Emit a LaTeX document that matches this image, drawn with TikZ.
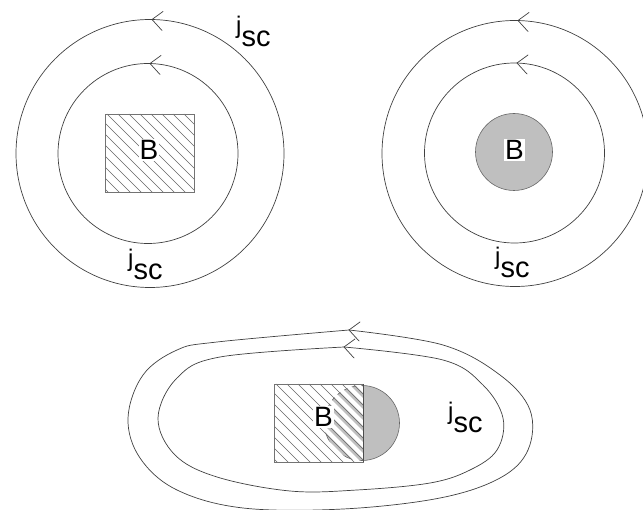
\documentclass[tikz,border=0pt]{standalone}
\usepackage{fontspec}
\setmainfont{Liberation Sans}
\newcommand{\jscsym}{\raisebox{13pt}{\fontsize{24}{24}\selectfont j}{\fontsize{29}{29}\selectfont sc}}
\begin{document}
\begin{tikzpicture}[x=1pt,y=-1pt,
  wire/.style={draw=black!75, line width=0.7pt},
  hatchline/.style={draw=black!60, line width=0.6pt},
  edgeline/.style={draw=black!55, line width=0.7pt},
  disk/.style={fill=black!25, draw=black!60, line width=0.6pt},
  blabel/.style={fill=white, inner sep=1pt, font=\fontsize{28}{28}\selectfont},
  jlabel/.style={anchor=base west, inner sep=0pt},
  chev/.pic={\draw[wire, line cap=round] (11,-8) -- (0,0) -- (10,11);}
]
\useasboundingbox (0,0) rectangle (643,510);

% ---------- top left ----------
\draw[wire] (150,153.5) circle[radius=134];
\draw[wire] (148,153.5) circle[radius=90];
\pic at (152,19.5) {chev};
\pic at (150,63.5) {chev};
\fill[white] (105,114) rectangle (194,192);
\begin{scope}
  \clip (105,114) rectangle (194,192);
  \foreach \k in {-9,...,9} \draw[hatchline] ({107+\k*11},114) -- ++(90,90);
\end{scope}
\draw[edgeline] (105,114) rectangle (194,192);
\node[blabel] (b1) at (149,150) {B};
\node[jlabel] (j1) at (236,46.5) {\jscsym};
\node[jlabel] (j2) at (128,280) {\jscsym};

% ---------- top right ----------
\draw[wire] (515,153.5) circle[radius=133];
\draw[wire] (514.5,153) circle[radius=90];
\pic at (518,20.5) {chev};
\pic at (517,63) {chev};
\filldraw[disk] (514,152) circle[radius=38.5];
\node[blabel] (b2) at (514.5,150) {B};
\node[jlabel] (j3) at (495,278) {\jscsym};

% ---------- bottom ----------
\draw[wire] plot[smooth, tension=0.6] coordinates {(349,330) (443,345) (500,375) (530,410) (528,450) (500,478) (440,498) (343,509) (243,508) (177,490) (140,458) (128,418) (143,375) (177,350) (217,342) (349,330)};
\draw[wire] plot[smooth, tension=0.6] coordinates {(344,347) (443,360) (483,385) (503,418) (497,450) (470,470) (430,483) (357,490) (290,491) (217,477) (175,455) (158,418) (177,378) (220,357) (344,347)};
\pic at (349,330) {chev};
\pic at (344,347) {chev};

\fill[white] (274,384) rectangle (363,462);
\filldraw[disk] (362,423) circle[radius=37.5];
\begin{scope}
  \clip (274,384) rectangle (363,462);
  \foreach \k in {-9,...,9} \draw[white, line width=4.2pt] ({280+\k*11},384) -- ++(90,90);
  \foreach \k in {-9,...,9} \draw[hatchline] ({276+\k*11},384) -- ++(90,90);
\end{scope}
\draw[edgeline] (274,384) rectangle (363,462);
\draw[draw=black!70, line width=0.9pt] (363,384) -- (363,462);
\node[blabel] (b3) at (323.5,417) {B};
\node[jlabel] (j4) at (448,432.5) {\jscsym};
\end{tikzpicture}
\end{document}
